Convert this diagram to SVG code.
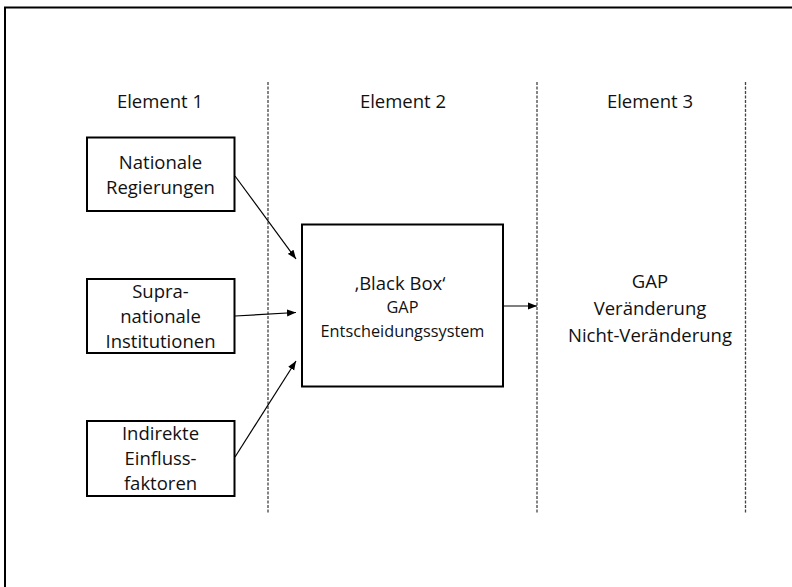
<svg xmlns="http://www.w3.org/2000/svg" width="792" height="587" viewBox="0 0 792 587">
  <style>
    .frame { fill: none; stroke: #000; stroke-width: 2; }
    .box { fill: #fff; stroke: #000; stroke-width: 2; }
    .divider { fill: none; stroke: #444; stroke-width: 1.3; stroke-dasharray: 3 1.5; }
    .conn { fill: none; stroke: #000; stroke-width: 1.2; marker-end: url(#arrow); }
    text { font-family: "Open Sans", "Liberation Sans", Arial, sans-serif; font-size: 18.5px; fill: #111; text-anchor: middle; }
    .small { font-size: 16.3px; }
  </style>
  <defs>
    <marker id="arrow" markerUnits="userSpaceOnUse" markerWidth="10" markerHeight="8" refX="9" refY="4" orient="auto">
      <path d="M0,0.5 L9,4 L0,7.5 Z" fill="#000"/>
    </marker>
  </defs>

  <rect width="792" height="587" fill="#fff"/>

  <!-- outer frame: only left and top edges are visible -->
  <path class="frame" d="M5,587 V7.5 H792"/>

  <!-- column dividers -->
  <g id="dividers">
    <line class="divider" x1="268" y1="82" x2="268" y2="513"/>
    <line class="divider" x1="537" y1="82" x2="537" y2="513"/>
    <line class="divider" x1="745.5" y1="82" x2="745.5" y2="513"/>
  </g>

  <!-- column headings -->
  <g id="headings">
    <text x="160" y="108">Element 1</text>
    <text x="403" y="108">Element 2</text>
    <text x="650" y="108">Element 3</text>
  </g>

  <g id="nationale">
    <rect class="box" x="87" y="137.5" width="147.5" height="73.5"/>
    <text x="160.5" y="169">Nationale</text>
    <text x="160.5" y="193.5">Regierungen</text>
  </g>

  <g id="supranational">
    <rect class="box" x="87" y="279" width="147.5" height="74"/>
    <text x="160.5" y="298">Supra-</text>
    <text x="160.5" y="323">nationale</text>
    <text x="160.5" y="348">Institutionen</text>
  </g>

  <g id="indirekt">
    <rect class="box" x="87" y="421" width="147.5" height="75"/>
    <text x="160.5" y="440">Indirekte</text>
    <text x="160.5" y="464.5">Einfluss-</text>
    <text x="160.5" y="490">faktoren</text>
  </g>

  <g id="blackbox">
    <rect class="box" x="302" y="224.5" width="201" height="162"/>
    <text x="400" y="290">‚Black Box‘</text>
    <text class="small" x="402.5" y="313">GAP</text>
    <text class="small" x="402.5" y="336.5">Entscheidungssystem</text>
  </g>

  <g id="ergebnis">
    <text x="650" y="288">GAP</text>
    <text x="650" y="315">Veränderung</text>
    <text x="650" y="341.5">Nicht-Veränderung</text>
  </g>

  <g id="connectors">
    <line class="conn" x1="235" y1="176" x2="296" y2="259"/>
    <line class="conn" x1="235" y1="316" x2="296" y2="312.5"/>
    <line class="conn" x1="235" y1="457" x2="296" y2="361"/>
    <line class="conn" x1="503" y1="306" x2="537" y2="306"/>
  </g>
</svg>
